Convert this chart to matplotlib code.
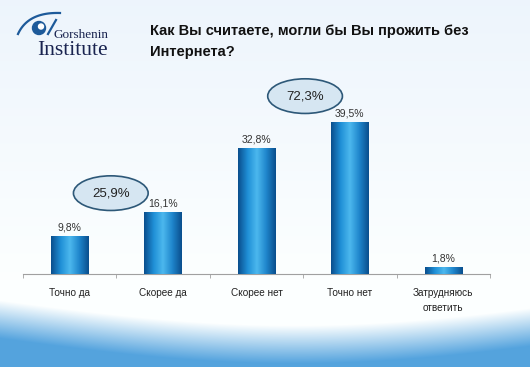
import numpy as np
import matplotlib.pyplot as plt
import matplotlib.patches as patches
from matplotlib.colors import LinearSegmentedColormap

categories = ["Точно да", "Скорее да", "Скорее нет", "Точно нет", "Затрудняюсь\nответить"]
values = [9.8, 16.1, 32.8, 39.5, 1.8]
value_labels = ["9,8%", "16,1%", "32,8%", "39,5%", "1,8%"]
group_labels = ["25,9%", "72,3%"]
title = "Как Вы считаете, могли бы Вы прожить без\nИнтернета?"

plt.rcParams['font.family'] = ['Liberation Sans', 'DejaVu Sans']

fig = plt.figure(figsize=(5.3, 3.67), dpi=100)

# background with blue wave at the bottom
bg = fig.add_axes([0, 0, 1, 1])
bg.set_axis_off()
H, W = 367, 530
yy, xx = np.mgrid[0:H, 0:W]
top = np.array([0.93, 0.96, 0.99])
mid = np.array([0.99, 1.0, 1.0])
blue = np.array([0.33, 0.64, 0.87])
t = np.clip(yy / 280.0, 0, 1)[..., None]
img = top * (1 - t) + mid * t
wave = 300 + 25 * np.sin(np.pi * xx / W * 0.9)
w = np.clip((yy - wave) / 38.0, 0, 1)[..., None]
img = img * (1 - w) + blue * w
bg.imshow(img, extent=[0, W, H, 0], aspect='auto')
bg.set_xlim(0, W)
bg.set_ylim(H, 0)

# logo
s = np.linspace(0, 1, 40)
arc_x = (1 - s) ** 2 * 18 + 2 * (1 - s) * s * 28 + s ** 2 * 60
arc_y = (1 - s) ** 2 * 34 + 2 * (1 - s) * s * 12 + s ** 2 * 13
bg.plot(arc_x, arc_y, color="#1d5a9a", lw=1.6)
bg.add_patch(patches.Circle((39, 28), 6.5, color="#1d5a9a"))
bg.add_patch(patches.Circle((41, 26.5), 2.5, color="white"))
bg.plot([48, 56], [34, 20], color="#1d5a9a", lw=1.6)
bg.text(53, 38, "Gorshenin", family="Liberation Serif", fontsize=9.5, color="#1a2450", va="baseline")
bg.text(37, 55, "Institute", family="Liberation Serif", fontsize=15.5, color="#1a2450", va="baseline")

bg.text(150, 24, title, fontsize=10.5, fontweight="bold", color="#111111",
        va="top", linespacing=1.6)

# chart
ax = fig.add_axes([23 / W, 1 - 274 / H, 467 / W, 192.5 / H])
ax.patch.set_alpha(0)
x = np.arange(len(categories))
bars = ax.bar(x, values, width=0.4, color="#1a7cc4")
cmap = LinearSegmentedColormap.from_list("bar", ["#0a4f8e", "#1f8fd6", "#4cb8ee", "#1f86cc", "#0a4f8e"])
grad = np.linspace(0, 1, 64).reshape(1, -1)
for b in bars:
    im = ax.imshow(grad, cmap=cmap, aspect='auto', extent=[b.get_x(), b.get_x() + b.get_width(), 0, b.get_height()], zorder=3)
    im.set_clip_path(b)
for xi, v, lab in zip(x, values, value_labels):
    ax.text(xi, v + 0.9, lab, ha="center", va="bottom", fontsize=7.5, color="#333333")

ax.set_xlim(-0.5, len(categories) - 0.5)
ax.set_ylim(0, 50)
for sp in ["top", "right", "left"]:
    ax.spines[sp].set_visible(False)
ax.spines["bottom"].set_color("#a0a0a0")
ax.set_yticks([])
ax.set_xticks(x)
ax.set_xticklabels(categories, fontsize=7.2, color="#222222", linespacing=1.6)
ax.tick_params(axis="x", length=0, pad=10)
ax.set_xticks(np.arange(len(categories) + 1) - 0.5, minor=True)
ax.tick_params(axis="x", which="minor", length=3, color="#a0a0a0")

for (cx, cy), lab in zip([(0.44, 21), (2.52, 46.2)], group_labels):
    ax.add_patch(patches.Ellipse((cx, cy), 0.8, 9, facecolor="#d6e6f2", edgecolor="#2d5878", lw=1.2, zorder=4, clip_on=False))
    ax.text(cx, cy, lab, ha="center", va="center", fontsize=9.5, color="#222222", zorder=5)

fig.savefig("out.png", dpi=100)
